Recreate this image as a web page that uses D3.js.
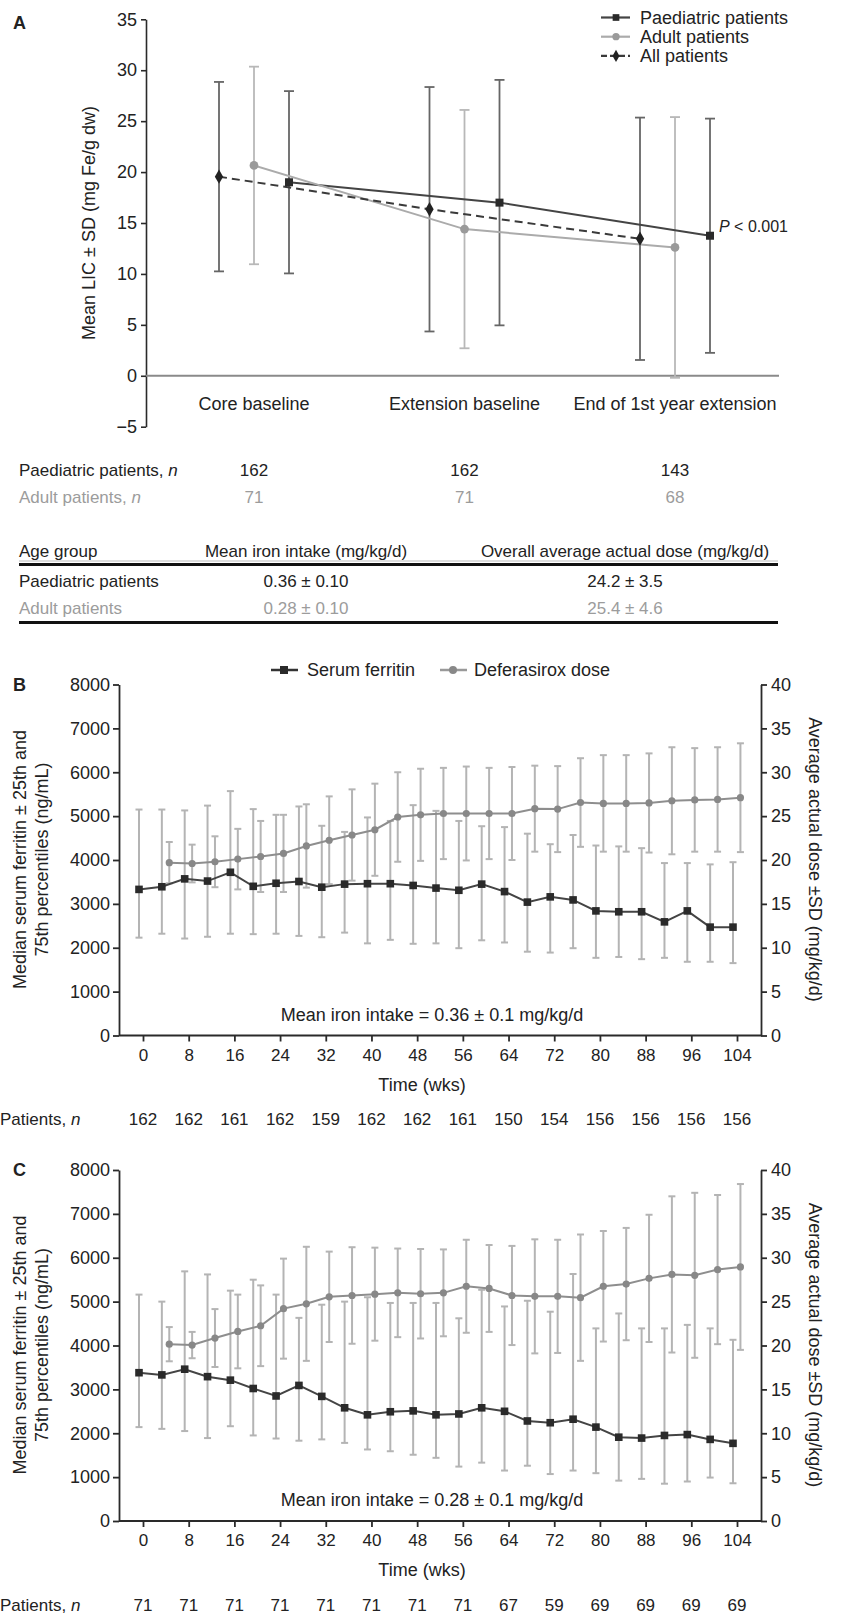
<!DOCTYPE html>
<html>
<head>
<meta charset="utf-8">
<script src="https://cdn.jsdelivr.net/npm/d3@7"></script>
<style>
  body { margin: 0; background: #fff; }
  svg text { font-family: "Liberation Sans", Arial, Helvetica, sans-serif; fill: #222; }
</style>
</head>
<body>
<svg id="chart"></svg>
<script>
// ---------- panel A data : mean LIC +- SD
const licGroups = ["Core baseline", "Extension baseline", "End of 1st year extension"];
const licPaedMean = [19.0, 17.0, 13.75];
const licPaedSD = [8.95, 12.05, 11.5];
const licAdultMean = [20.65, 14.4, 12.6];
const licAdultSD = [9.7, 11.7, 12.8];
const licAllMean = [19.55, 16.35, 13.45];
const licAllSD = [9.3, 12.0, 11.9];
const nPaed = [162, 162, 143];
const nAdult = [71, 71, 68];

// summary table
const tableHead = ["Age group", "Mean iron intake (mg/kg/d)", "Overall average actual dose (mg/kg/d)"];
const tablePaed = ["Paediatric patients", "0.36 ± 0.10", "24.2 ± 3.5"];
const tableAdult = ["Adult patients", "0.28 ± 0.10", "25.4 ± 4.6"];

// ---------- panels B / C : weeks
const ferritinWeeks = d3.range(0, 105, 4);   // 0..104
const doseWeeks = d3.range(4, 105, 4);       // 4..104
const patientWeeks = d3.range(0, 105, 8);

// B paediatric
const ferB = [3330, 3390, 3570, 3520, 3720, 3400, 3470, 3510, 3380, 3450, 3460, 3460, 3420, 3360, 3310, 3450, 3280, 3040, 3160, 3090, 2840, 2820, 2820, 2590, 2840, 2470, 2470];
const ferB75 = [5150, 5150, 5130, 5240, 5570, 5160, 5030, 5220, 4780, 4640, 4970, 4890, 5250, 5120, 4890, 4770, 4750, 4600, 4360, 4570, 4330, 4310, 4270, 3930, 3930, 3900, 3950];
const ferB25 = [2230, 2320, 2210, 2250, 2320, 2310, 2320, 2270, 2240, 2345, 2100, 2180, 2090, 2100, 1990, 2170, 2120, 1910, 1890, 1990, 1770, 1790, 1740, 1770, 1680, 1680, 1650];
const doseB = [19.7, 19.6, 19.8, 20.1, 20.4, 20.75, 21.6, 22.25, 22.85, 23.45, 24.9, 25.15, 25.3, 25.3, 25.3, 25.3, 25.85, 25.8, 26.55, 26.45, 26.45, 26.5, 26.75, 26.85, 26.9, 27.1];
const doseBsd = [2.35, 2.15, 2.9, 3.45, 4.05, 4.4, 4.75, 5.0, 5.2, 5.25, 5.1, 5.25, 5.2, 5.35, 5.2, 5.3, 4.9, 4.9, 5.05, 5.5, 5.5, 5.65, 6.1, 5.9, 5.95, 6.2];
const patientsB = [162, 162, 161, 162, 159, 162, 162, 161, 150, 154, 156, 156, 156, 156];

// C adult
const ferC = [3380, 3330, 3460, 3290, 3210, 3020, 2850, 3090, 2840, 2580, 2420, 2490, 2510, 2420, 2440, 2580, 2500, 2280, 2240, 2320, 2140, 1910, 1890, 1950, 1970, 1860, 1770];
const ferC75 = [5160, 5000, 5690, 5620, 5250, 5500, 5160, 4630, 4930, 5000, 5100, 4970, 4970, 4970, 4620, 5270, 4890, 5020, 4770, 5630, 4390, 4730, 4390, 4390, 4470, 4390, 4130];
const ferC25 = [2140, 2100, 2050, 1890, 2160, 1950, 1880, 1830, 1860, 1780, 1630, 1590, 1510, 1440, 1240, 1330, 1150, 1260, 1070, 1150, 1090, 920, 960, 850, 900, 990, 860];
const doseC = [20.15, 20.05, 20.85, 21.6, 22.25, 24.2, 24.75, 25.55, 25.7, 25.85, 26.0, 25.9, 26.0, 26.75, 26.5, 25.7, 25.6, 25.6, 25.45, 26.75, 27.0, 27.65, 28.1, 28.0, 28.65, 28.95];
const doseCsd = [1.95, 1.5, 3.3, 4.2, 4.6, 5.7, 6.5, 5.15, 5.5, 5.3, 5.05, 5.1, 4.95, 5.3, 4.95, 5.65, 6.5, 6.45, 7.2, 6.3, 6.4, 7.25, 8.9, 9.4, 8.5, 9.45];
const patientsC = [71, 71, 71, 71, 71, 71, 71, 71, 67, 59, 69, 69, 69, 69];

// ---------- drawing
const svg = d3.select('#chart').attr('width', 841).attr('height', 1614);
const axisCol = '#2a2a2a';
const adultGrey = '#9c9c9c';

function errorBar(g, x, y1, y2, cap, colour, w) {
  g.append('line').attr('x1', x).attr('x2', x).attr('y1', y1).attr('y2', y2)
    .attr('stroke', colour).attr('stroke-width', w);
  [y1, y2].forEach(yy => g.append('line')
    .attr('x1', x - cap / 2).attr('x2', x + cap / 2).attr('y1', yy).attr('y2', yy)
    .attr('stroke', colour).attr('stroke-width', w));
}

// ===== Panel A
const yA = d3.scaleLinear().domain([-5, 35]).range([426.7, 19.3]);
const xA = d3.scalePoint().domain(licGroups).range([254, 675]);

const seriesA = [
  {name: 'Paediatric patients', mean: licPaedMean, sd: licPaedSD, dx: 35, line: '#444', bar: '#666', mark: '#2a2a2a', sym: d3.symbolSquare, size: 64, dash: null},
  {name: 'Adult patients', mean: licAdultMean, sd: licAdultSD, dx: 0, line: '#ababab', bar: '#b8b8b8', mark: '#9a9a9a', sym: d3.symbolCircle, size: 60, dash: null},
  {name: 'All patients', mean: licAllMean, sd: licAllSD, dx: -35, line: '#3a3a3a', bar: '#666', mark: '#222', sym: d3.symbolDiamond, size: 60, dash: '8,5'}
];

const gA = svg.append('g');

// y axis
gA.append('g').attr('transform', 'translate(146,0)')
  .call(d3.axisLeft(yA).tickValues(d3.range(-5, 36, 5)).tickSize(5).tickPadding(4).tickSizeOuter(0))
  .call(g => g.selectAll('text').style('font-size', '18px').attr('fill', '#222'))
  .call(g => g.selectAll('line,path').attr('stroke', axisCol).attr('stroke-width', 1.6));

// zero line
gA.append('line').attr('x1', 146).attr('x2', 779).attr('y1', yA(0)).attr('y2', yA(0))
  .attr('stroke', '#8a8a8a').attr('stroke-width', 2);

// category labels
gA.selectAll('text.cat').data(licGroups).join('text').attr('class', 'cat')
  .attr('x', d => xA(d)).attr('y', 410).attr('text-anchor', 'middle')
  .style('font-size', '18px').text(d => d);

// error bars
seriesA.slice().reverse().forEach(s => {
  licGroups.forEach((c, i) => {
    errorBar(gA, xA(c) + s.dx, yA(s.mean[i] + s.sd[i]), yA(s.mean[i] - s.sd[i]), 10, s.bar, 1.8);
  });
});

// lines and markers
seriesA.forEach(s => {
  const line = d3.line().x((d, i) => xA(licGroups[i]) + s.dx).y(d => yA(d));
  gA.append('path').attr('d', line(s.mean)).attr('fill', 'none')
    .attr('stroke', s.line).attr('stroke-width', 2).attr('stroke-dasharray', s.dash);
});
seriesA.forEach(s => {
  gA.selectAll(null).data(s.mean).join('path')
    .attr('transform', (d, i) => `translate(${xA(licGroups[i]) + s.dx},${yA(d)})`)
    .attr('d', d3.symbol().type(s.sym).size(s.size)).attr('fill', s.mark);
});

// legend
seriesA.forEach((s, i) => {
  const ly = 17.5 + i * 19.2;
  gA.append('line').attr('x1', 601).attr('x2', 630).attr('y1', ly).attr('y2', ly)
    .attr('stroke', s.line).attr('stroke-width', 2.2).attr('stroke-dasharray', s.dash ? '6,3' : null);
  gA.append('path').attr('transform', `translate(616,${ly})`)
    .attr('d', d3.symbol().type(s.sym).size(s.size * 0.7)).attr('fill', s.mark);
  gA.append('text').attr('x', 640).attr('y', ly).attr('dy', '0.35em')
    .style('font-size', '18px').text(s.name);
});

// p value
gA.append('text').attr('x', 719).attr('y', 226).attr('dy', '0.35em').style('font-size', '16px')
  .call(t => { t.append('tspan').style('font-style', 'italic').text('P'); t.append('tspan').text(' < 0.001'); });

// panel letter and y title
gA.append('text').attr('x', 13).attr('y', 23).attr('dy', '0.35em').style('font-size', '18px')
  .style('font-weight', 'bold').text('A');
gA.append('text').attr('transform', 'translate(88.5,223) rotate(-90)').attr('dy', '0.35em')
  .attr('text-anchor', 'middle').style('font-size', '18px').text('Mean LIC ± SD (mg Fe/g dw)');

// n rows
[[nPaed, 'Paediatric patients, ', 470, '#222'], [nAdult, 'Adult patients, ', 497, adultGrey]].forEach(r => {
  gA.append('text').attr('x', 19).attr('y', r[2]).attr('dy', '0.35em').style('font-size', '17px')
    .style('fill', r[3])
    .call(t => { t.append('tspan').text(r[1]); t.append('tspan').style('font-style', 'italic').text('n'); });
  gA.selectAll(null).data(r[0]).join('text')
    .attr('x', (d, i) => xA(licGroups[i])).attr('y', r[2]).attr('dy', '0.35em')
    .attr('text-anchor', 'middle').style('font-size', '17px').style('fill', r[3]).text(d => d);
});

// table
const colX = [19, 306, 625];
const colAnchor = ['start', 'middle', 'middle'];
[[tableHead, 551, '#222'], [tablePaed, 581, '#222'], [tableAdult, 608, adultGrey]].forEach(r => {
  gA.selectAll(null).data(r[0]).join('text')
    .attr('x', (d, i) => colX[i]).attr('y', r[1]).attr('dy', '0.35em')
    .attr('text-anchor', (d, i) => colAnchor[i]).style('font-size', '17px').style('fill', r[2]).text(d => d);
});
gA.append('line').attr('x1', 19).attr('x2', 778).attr('y1', 561).attr('y2', 561).attr('stroke', '#bbb').attr('stroke-width', 1);
gA.append('line').attr('x1', 19).attr('x2', 778).attr('y1', 564.5).attr('y2', 564.5).attr('stroke', '#111').attr('stroke-width', 3);
gA.append('line').attr('x1', 19).attr('x2', 778).attr('y1', 622.5).attr('y2', 622.5).attr('stroke', '#111').attr('stroke-width', 3);

// ===== Panels B and C
function timePanel(top, letter, fer, fer25, fer75, dose, doseSd, patients, intake, legend) {
  const bottom = top + 351;
  const left = 119, right = 761;
  const g = svg.append('g');
  const x = d3.scaleLinear().domain([0, 104]).range([143, 737]);
  const yF = d3.scaleLinear().domain([0, 8000]).range([bottom, top]);
  const yD = d3.scaleLinear().domain([0, 40]).range([bottom, top]);
  const ferShift = -0.7, doseShift = 0.6;
  const barCol = '#b4b4b4';

  // axes
  g.append('g').attr('class', 'yaxis').attr('transform', `translate(${left},0)`)
    .call(d3.axisLeft(yF).tickValues(d3.range(0, 8001, 1000)).tickFormat(d3.format('d')).tickSize(6).tickPadding(3).tickSizeOuter(0));
  g.append('g').attr('class', 'yaxis').attr('transform', `translate(${right},0)`)
    .call(d3.axisRight(yD).tickValues(d3.range(0, 41, 5)).tickSize(6).tickPadding(4).tickSizeOuter(0));
  g.append('g').attr('class', 'xaxis').attr('transform', `translate(0,${bottom})`)
    .call(d3.axisBottom(x).tickValues(d3.range(0, 105, 8)).tickSize(6).tickPadding(7).tickSizeOuter(0))
    .call(a => a.select('.domain').remove());
  g.append('line').attr('x1', left).attr('x2', right).attr('y1', bottom).attr('y2', bottom);
  g.selectAll('line,path.domain').attr('stroke', axisCol).attr('stroke-width', 1.8);
  g.selectAll('.tick text').attr('fill', '#222');
  g.selectAll('.yaxis .tick text').style('font-size', '18px');
  g.selectAll('.xaxis .tick text').style('font-size', '17px');

  // error bars
  fer.forEach((d, i) => errorBar(g, x(ferritinWeeks[i] + ferShift), yF(fer75[i]), yF(fer25[i]), 7, barCol, 2));
  dose.forEach((d, i) => errorBar(g, x(doseWeeks[i] + doseShift), yD(d + doseSd[i]), yD(d - doseSd[i]), 7, barCol, 2));

  // dose series
  g.append('path').datum(dose)
    .attr('d', d3.line().x((d, i) => x(doseWeeks[i] + doseShift)).y(d => yD(d)))
    .attr('fill', 'none').attr('stroke', '#8e8e8e').attr('stroke-width', 2);
  g.selectAll(null).data(dose).join('circle')
    .attr('cx', (d, i) => x(doseWeeks[i] + doseShift)).attr('cy', d => yD(d)).attr('r', 3.6).attr('fill', '#888');

  // ferritin series
  g.append('path').datum(fer)
    .attr('d', d3.line().x((d, i) => x(ferritinWeeks[i] + ferShift)).y(d => yF(d)))
    .attr('fill', 'none').attr('stroke', '#444').attr('stroke-width', 2);
  g.selectAll(null).data(fer).join('rect')
    .attr('x', (d, i) => x(ferritinWeeks[i] + ferShift) - 3.8).attr('y', d => yF(d) - 3.8)
    .attr('width', 7.6).attr('height', 7.6).attr('fill', '#2a2a2a');

  // texts
  g.append('text').attr('x', 13).attr('y', top).attr('dy', '0.35em').style('font-size', '18px')
    .style('font-weight', 'bold').text(letter);
  g.append('text').attr('x', 432).attr('y', bottom - 21).attr('dy', '0.35em')
    .attr('text-anchor', 'middle').style('font-size', '18px').text(intake);
  g.append('text').attr('x', 422).attr('y', bottom + 49).attr('dy', '0.35em')
    .attr('text-anchor', 'middle').style('font-size', '18px').text('Time (wks)');
  const cy = top + 175;
  g.append('text').attr('transform', `translate(20,${cy}) rotate(-90)`).attr('dy', '0.35em')
    .attr('text-anchor', 'middle').style('font-size', '18px').text('Median serum ferritin ± 25th and');
  g.append('text').attr('transform', `translate(42,${cy}) rotate(-90)`).attr('dy', '0.35em')
    .attr('text-anchor', 'middle').style('font-size', '18px').text('75th percentiles (ng/mL)');
  g.append('text').attr('transform', `translate(815,${cy}) rotate(90)`).attr('dy', '0.35em')
    .attr('text-anchor', 'middle').style('font-size', '18px').text('Average actual dose ±SD (mg/kg/d)');

  // patients row
  const py = bottom + 84;
  g.append('text').attr('x', 0).attr('y', py).attr('dy', '0.35em').style('font-size', '17px')
    .call(t => { t.append('tspan').text('Patients, '); t.append('tspan').style('font-style', 'italic').text('n'); });
  g.selectAll(null).data(patients).join('text')
    .attr('x', (d, i) => x(patientWeeks[i])).attr('y', py).attr('dy', '0.35em')
    .attr('text-anchor', 'middle').style('font-size', '17px').text(d => d);

  if (legend) {
    const ly = top - 14.5;
    g.append('line').attr('x1', 271).attr('x2', 298).attr('y1', ly).attr('y2', ly).attr('stroke', '#333').attr('stroke-width', 2.5);
    g.append('rect').attr('x', 280).attr('y', ly - 4).attr('width', 8).attr('height', 8).attr('fill', '#2a2a2a');
    g.append('text').attr('x', 307).attr('y', ly).attr('dy', '0.35em').style('font-size', '18px').text('Serum ferritin');
    g.append('line').attr('x1', 440).attr('x2', 467).attr('y1', ly).attr('y2', ly).attr('stroke', '#999').attr('stroke-width', 2.5);
    g.append('circle').attr('cx', 453).attr('cy', ly).attr('r', 4).attr('fill', '#888');
    g.append('text').attr('x', 474).attr('y', ly).attr('dy', '0.35em').style('font-size', '18px').text('Deferasirox dose');
  }
}

timePanel(684.5, 'B', ferB, ferB25, ferB75, doseB, doseBsd, patientsB, 'Mean iron intake = 0.36 ± 0.1 mg/kg/d', true);
timePanel(1170, 'C', ferC, ferC25, ferC75, doseC, doseCsd, patientsC, 'Mean iron intake = 0.28 ± 0.1 mg/kg/d', false);
</script>
</body>
</html>
